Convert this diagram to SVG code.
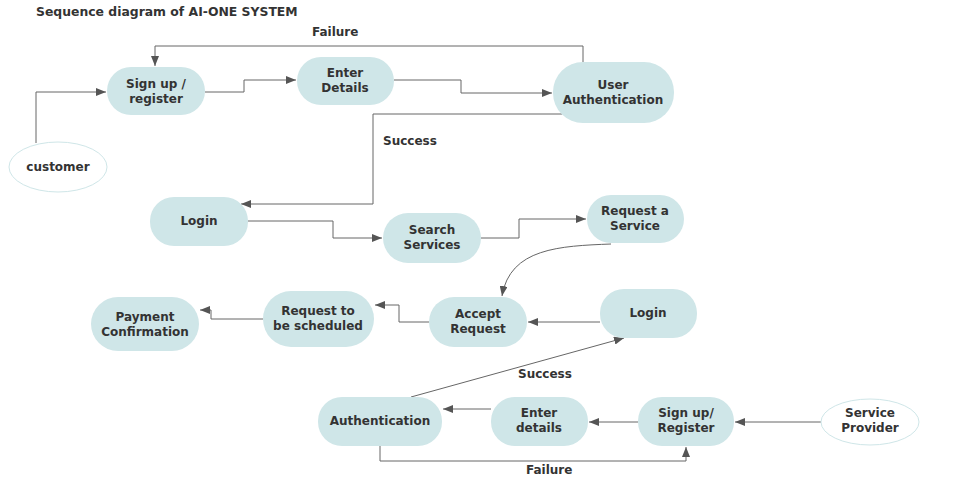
<svg xmlns="http://www.w3.org/2000/svg" width="956" height="486" viewBox="0 0 956 486">
<style>
.n{fill:#cfe6e8;stroke:none}
.e{fill:#fff;stroke:#cfe6e8;stroke-width:1}
.t{font-family:"DejaVu Sans",Verdana,sans-serif;font-weight:bold;font-size:12px;fill:#333;text-anchor:middle}
.l{font-family:"DejaVu Sans",Verdana,sans-serif;font-weight:bold;font-size:12px;fill:#333}
.c{fill:none;stroke:#666;stroke-width:1}
</style>
<defs>
<marker id="a" markerWidth="10" markerHeight="8" refX="10" refY="4" orient="auto" markerUnits="userSpaceOnUse">
<path d="M0,0 L10,4 L0,8 Z" fill="#555"/>
</marker>
</defs>
<rect width="956" height="486" fill="#fff"/>
<text class="l" x="36" y="16" style="font-size:12.4px">Sequence diagram of AI-ONE SYSTEM</text>
<g id="connectors">
<path class="c" d="M36,143 V92 H106" marker-end="url(#a)"/>
<path class="c" d="M205,92 H244 V80 H296" marker-end="url(#a)"/>
<path class="c" d="M394,80 H461 V93 H552" marker-end="url(#a)"/>
<path class="c" d="M583,62 V46 H155 V66" marker-end="url(#a)"/>
<path class="c" d="M562,114 H373 V204 H241" marker-end="url(#a)"/>
<path class="c" d="M248,221 H333 V238 H382" marker-end="url(#a)"/>
<path class="c" d="M481,238 H519 V219 H586" marker-end="url(#a)"/>
<path class="c" d="M611,244 C560,246 510,248 502,296" marker-end="url(#a)"/>
<path class="c" d="M600,322 H528" marker-end="url(#a)"/>
<path class="c" d="M429,322 H399 V305 H375" marker-end="url(#a)"/>
<path class="c" d="M263,319 H211 V310 H200" marker-end="url(#a)"/>
<path class="c" d="M411,397 L624,338" marker-end="url(#a)"/>
<path class="c" d="M491,409 H443" marker-end="url(#a)"/>
<path class="c" d="M638,422 H589" marker-end="url(#a)"/>
<path class="c" d="M821,422 H735" marker-end="url(#a)"/>
<path class="c" d="M380,446 V461 H686 V447" marker-end="url(#a)"/>
<text class="l" x="312" y="36">Failure</text>
<text class="l" x="383" y="145">Success</text>
<text class="l" x="518" y="378">Success</text>
<text class="l" x="526" y="474">Failure</text>
</g>
<g id="customer"><ellipse class="e" cx="58" cy="167" rx="49" ry="25"/><text class="t" x="58" y="171">customer</text></g>
<g id="signup"><rect class="n" x="107" y="67" width="98" height="48" rx="24"/><text class="t" x="156" y="88">Sign up /</text><text class="t" x="156" y="103">register</text></g>
<g id="enterDetails"><rect class="n" x="297" y="57" width="97" height="48" rx="24"/><text class="t" x="345" y="77">Enter</text><text class="t" x="345" y="92">Details</text></g>
<g id="userAuth"><rect class="n" x="553" y="62" width="121" height="61" rx="30"/><text class="t" x="613" y="89">User</text><text class="t" x="613" y="104">Authentication</text></g>
<g id="login"><rect class="n" x="150" y="197" width="98" height="49" rx="24"/><text class="t" x="199" y="225">Login</text></g>
<g id="searchServices"><rect class="n" x="383" y="213" width="98" height="50" rx="25"/><text class="t" x="432" y="234">Search</text><text class="t" x="432" y="249">Services</text></g>
<g id="requestService"><rect class="n" x="587" y="195" width="97" height="48" rx="24"/><text class="t" x="635" y="215">Request a</text><text class="t" x="635" y="230">Service</text></g>
<g id="acceptRequest"><rect class="n" x="429" y="297" width="98" height="50" rx="25"/><text class="t" x="478" y="318">Accept</text><text class="t" x="478" y="333">Request</text></g>
<g id="login2"><rect class="n" x="600" y="289" width="97" height="49" rx="24"/><text class="t" x="648" y="317">Login</text></g>
<g id="requestScheduled"><rect class="n" x="263" y="291" width="111" height="56" rx="28"/><text class="t" x="318" y="315">Request to</text><text class="t" x="318" y="330">be scheduled</text></g>
<g id="payment"><rect class="n" x="91" y="297" width="108" height="54" rx="27"/><text class="t" x="145" y="321">Payment</text><text class="t" x="145" y="336">Confirmation</text></g>
<g id="authentication"><rect class="n" x="318" y="397" width="124" height="49" rx="24"/><text class="t" x="380" y="425">Authentication</text></g>
<g id="enterDetails2"><rect class="n" x="491" y="397" width="97" height="49" rx="24"/><text class="t" x="539" y="417">Enter</text><text class="t" x="539" y="432">details</text></g>
<g id="signup2"><rect class="n" x="638" y="397" width="96" height="49" rx="24"/><text class="t" x="686" y="417">Sign up/</text><text class="t" x="686" y="432">Register</text></g>
<g id="serviceProvider"><ellipse class="e" cx="870" cy="422" rx="49" ry="23"/><text class="t" x="870" y="417">Service</text><text class="t" x="870" y="432">Provider</text></g>
</svg>
